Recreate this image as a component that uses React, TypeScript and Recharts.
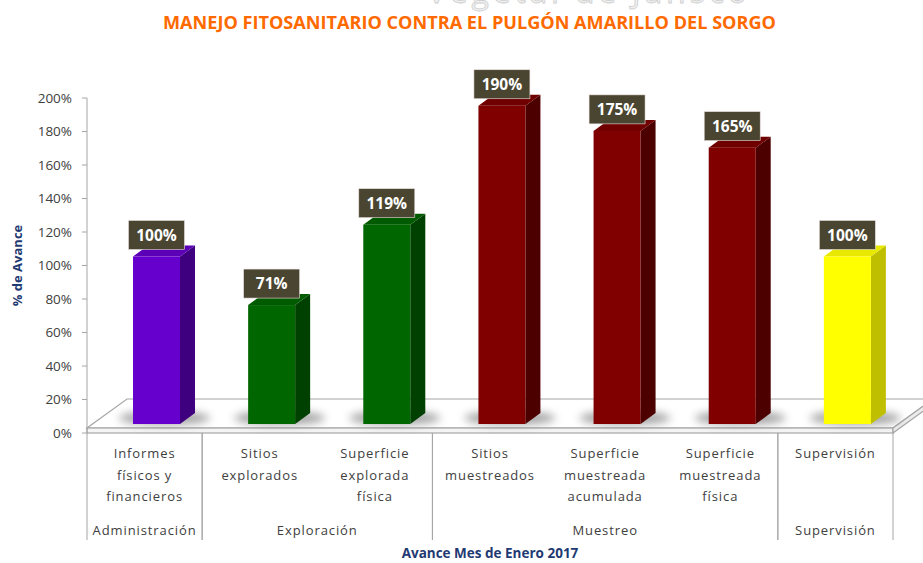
import React from 'react';
import { BarChart, Bar, XAxis, YAxis, Cell, LabelList, usePlotArea } from 'recharts';

// Avance Mes de Enero 2017
const categories = [
  'Informes\nfísicos y\nfinancieros',
  'Sitios\nexplorados',
  'Superficie\nexplorada\nfísica',
  'Sitios\nmuestreados',
  'Superficie\nmuestreada\nacumulada',
  'Superficie\nmuestreada\nfísica',
  'Supervisión',
];
const groups = ['Administración', 'Exploración', 'Exploración', 'Muestreo', 'Muestreo', 'Muestreo', 'Supervisión'];
const avance = [1.0, 0.71, 1.19, 1.9, 1.75, 1.65, 1.0];
const yTicks = [0, 0.2, 0.4, 0.6, 0.8, 1, 1.2, 1.4, 1.6, 1.8, 2];

const frontColors = ['#6600CC', '#006600', '#006600', '#800000', '#800000', '#800000', '#FFFF00'];
const topColors = ['#5B00B6', '#005A00', '#005A00', '#700000', '#700000', '#700000', '#E8E800'];
const sideColors = ['#3F007F', '#004000', '#004000', '#4C0000', '#4C0000', '#4C0000', '#BFBF00'];

const data = categories.map((name, i) => ({ name, group: groups[i], avance: avance[i] }));

const W = 923;
const H = 563;
const FONT = '"Open Sans", "Noto Sans", sans-serif';
const TEXT = '#404040';
const AXIS = '#a6a6a6';
const NAVY = '#1F3A73';

// 3D offsets: bars sit a bit behind the front plane of the axis
const DX = 12;
const DY = -9;
const SIDE_X = 15;
const SIDE_Y = -11;

const CHART_MARGIN = { top: 98, right: 30, bottom: 0, left: 0 };
const Y_AXIS_W = 87;
const PLOT_W = W - CHART_MARGIN.left - CHART_MARGIN.right - Y_AXIS_W;

const Bar3D = (props: any) => {
  const { x, y, width, height, index } = props;
  if (height == null || height <= 0) return null;
  const fx = x + DX;
  const fy = y + DY;
  const w = width;
  const h = height;
  const side = `${fx + w},${fy} ${fx + w + SIDE_X},${fy + SIDE_Y} ${fx + w + SIDE_X},${fy + h + SIDE_Y} ${fx + w},${fy + h}`;
  const top = `${fx},${fy} ${fx + SIDE_X},${fy + SIDE_Y} ${fx + w + SIDE_X},${fy + SIDE_Y} ${fx + w},${fy}`;
  return (
    <g>
      <ellipse
        cx={fx + w / 2 + 8}
        cy={fy + h - 6}
        rx={w / 2 + 22}
        ry={7}
        fill="#7f7f7f"
        opacity={0.7}
        filter="url(#floorShadow)"
      />
      <polygon points={side} fill={sideColors[index]} />
      <polygon points={top} fill={topColors[index]} />
      <rect x={fx} y={fy} width={w} height={h} fill={frontColors[index]} />
    </g>
  );
};

const ValueBadge = (props: any) => {
  const { x, y, width, value } = props;
  const cx = x + DX + width / 2;
  const bottom = y + DY - 7;
  return (
    <g>
      <rect x={cx - 28} y={bottom - 29} width={56} height={29} fill="#4A4531" stroke="#eadede" strokeWidth={0.6} />
      <text
        x={cx}
        y={bottom - 9}
        textAnchor="middle"
        fill="#ffffff"
        fontFamily={FONT}
        fontWeight={700}
        fontSize={15.5}
      >
        {`${Math.round(value * 100)}%`}
      </text>
    </g>
  );
};

// floor slab under the bars
const Floor = () => {
  const area = usePlotArea();
  if (!area) return null;
  const x0 = area.x;
  const x1 = area.x + area.width;
  const y0 = area.y + area.height;
  const t = 5;
  const ddx = 40;
  const ddy = -29;
  const top = `${x0},${y0 - t} ${x1},${y0 - t} ${x1 + ddx},${y0 - t + ddy} ${x0 + ddx},${y0 - t + ddy}`;
  const right = `${x1},${y0 - t} ${x1 + ddx},${y0 - t + ddy} ${x1 + ddx},${y0 + ddy} ${x1},${y0}`;
  return (
    <g>
      <polygon points={top} fill="#ffffff" stroke={AXIS} strokeWidth={1.2} />
      <rect x={x0} y={y0 - t} width={x1 - x0} height={t} fill="#f4f4f4" stroke={AXIS} strokeWidth={1.2} />
      <polygon points={right} fill="#ececec" stroke={AXIS} strokeWidth={1.2} />
    </g>
  );
};

const CategoryTick = (props: any) => {
  const { x, y, payload } = props;
  const i = payload.index;
  const n = categories.length;
  const band = PLOT_W / n;
  const left = x - band / 2;
  const right = x + band / 2;
  const isStart = i === 0 || groups[i] !== groups[i - 1];
  const isEnd = i === n - 1 || groups[i] !== groups[i + 1];
  const lines = String(payload.value).split('\n');
  let groupLabel = null;
  if (isStart) {
    let j = i;
    while (j + 1 < n && groups[j + 1] === groups[i]) j++;
    const cx = left + ((j - i + 1) * band) / 2;
    groupLabel = (
      <text x={cx} y={y + 102} textAnchor="middle" fill={TEXT} fontFamily={FONT} fontSize={13} letterSpacing={0.9}>
        {groups[i]}
      </text>
    );
  }
  return (
    <g>
      {isStart && <line x1={left} x2={left} y1={y} y2={y + 107} stroke={AXIS} />}
      {isEnd && <line x1={right} x2={right} y1={y} y2={y + 107} stroke={AXIS} />}
      {lines.map((l, k) => (
        <text
          key={k}
          x={x}
          y={y + 25 + k * 21.5}
          textAnchor="middle"
          fill={TEXT}
          fontFamily={FONT}
          fontSize={13}
          letterSpacing={0.9}
        >
          {l}
        </text>
      ))}
      {groupLabel}
    </g>
  );
};

const YTitle = (props: any) => {
  const vb = props.viewBox || { x: 0, y: 98, width: 87, height: 335 };
  const cx = vb.x + 17;
  const cy = vb.y + vb.height / 2;
  return (
    <text
      x={cx}
      y={cy}
      transform={`rotate(-90 ${cx} ${cy})`}
      textAnchor="middle"
      dominantBaseline="central"
      fill={NAVY}
      fontFamily={FONT}
      fontWeight={700}
      fontSize={13}
    >
      % de Avance
    </text>
  );
};

const XTitle = (props: any) => {
  const vb = props.viewBox || { x: 87, y: 433, width: 806, height: 130 };
  return (
    <text
      x={vb.x + vb.width / 2}
      y={vb.y + 125}
      textAnchor="middle"
      fill={NAVY}
      fontFamily={FONT}
      fontWeight={700}
      fontSize={13.5}
    >
      Avance Mes de Enero 2017
    </text>
  );
};

export default function App() {
  return (
    <div style={{ position: 'absolute', left: 0, top: 0, width: W, height: H, background: '#ffffff', overflow: 'hidden' }}>
      <svg width={W} height={40} style={{ position: 'absolute', left: 0, top: 0 }}>
        <text
          x={587}
          y={3}
          textAnchor="middle"
          fill="#f0f0f0"
          stroke="#cfcfcf"
          strokeWidth={0.8}
          fontFamily={FONT}
          fontSize={32}
          textLength={320}
        >
          Vegetal de Jalisco
        </text>
        <text
          x={469.5}
          y={29}
          textAnchor="middle"
          fill="#FF6A00"
          fontFamily={FONT}
          fontWeight={700}
          fontSize={17}
          textLength={613}
          lengthAdjust="spacingAndGlyphs"
        >
          MANEJO FITOSANITARIO CONTRA EL PULGÓN AMARILLO DEL SORGO
        </text>
      </svg>
      <div style={{ position: 'absolute', left: 0, top: 0 }}>
        <BarChart width={W} height={H} data={data} margin={CHART_MARGIN} barSize={47}>
          <defs>
            <filter id="floorShadow" x="-50%" y="-100%" width="200%" height="300%">
              <feGaussianBlur stdDeviation={4} />
            </filter>
          </defs>
          <Floor />
          <XAxis
            dataKey="name"
            interval={0}
            axisLine={false}
            tickLine={false}
            tickSize={0}
            tickMargin={0}
            height={130}
            tick={<CategoryTick />}
            label={<XTitle />}
          />
          <YAxis
            width={Y_AXIS_W}
            domain={[0, 2]}
            ticks={yTicks}
            interval={0}
            tickFormatter={(v: number) => `${Math.round(v * 100)}%`}
            tick={{ fill: TEXT, fontSize: 13.5, fontFamily: FONT }}
            axisLine={{ stroke: AXIS }}
            tickLine={{ stroke: AXIS }}
            tickSize={5}
            tickMargin={10}
            label={<YTitle />}
          />
          <Bar dataKey="avance" isAnimationActive={false} shape={<Bar3D />}>
            {data.map((d, i) => (
              <Cell key={d.name} fill={frontColors[i]} />
            ))}
            <LabelList dataKey="avance" content={<ValueBadge />} />
          </Bar>
        </BarChart>
      </div>
    </div>
  );
}
